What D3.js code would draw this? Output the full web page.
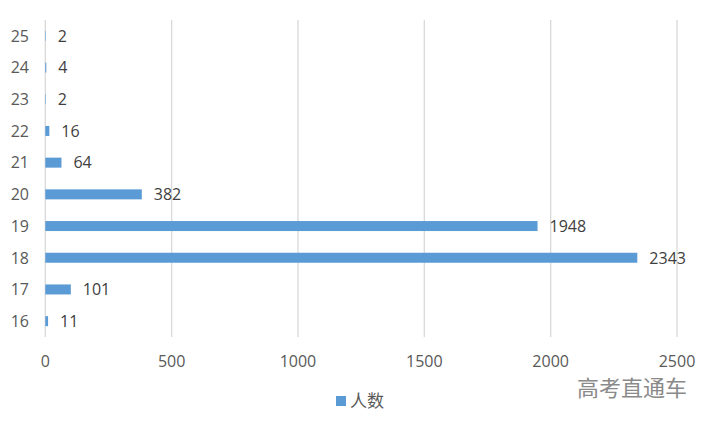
<!DOCTYPE html>
<html><head><meta charset="utf-8">
<script src="https://cdn.jsdelivr.net/npm/d3@7/dist/d3.min.js"></script>
<style>body{margin:0;background:#fff}svg{display:block}text{font-family:"Open Sans","Noto Sans CJK SC",sans-serif}.cjk{font-family:"Noto Sans CJK SC",sans-serif}</style>
</head><body><svg id="c" width="714" height="427"></svg>
<script>
const categories = ["16","17","18","19","20","21","22","23","24","25"];
const values = [11,101,2343,1948,382,64,16,2,4,2];
const xTicks = [0,500,1000,1500,2000,2500];
const seriesName = "人数";
const watermark = "高考直通车";

const svg = d3.select("#c");
const x = d3.scaleLinear().domain([0,2500]).range([45.3,677]);
const y = d3.scaleBand().domain(categories.slice().reverse()).range([20,337]);
const barH = 10;

// gridlines
svg.append("g").selectAll("line").data(xTicks).join("line")
  .attr("x1",d=>x(d)).attr("x2",d=>x(d)).attr("y1",20).attr("y2",337)
  .attr("stroke","#d9d9d9").attr("stroke-width",1.3);

// bars
svg.append("g").selectAll("rect").data(categories).join("rect")
  .attr("x",x(0)).attr("y",(d)=>y(d)+y.bandwidth()/2-barH/2)
  .attr("width",(d,i)=>Math.max(0,x(values[i])-x(0)))
  .attr("height",barH).attr("fill","#5b9bd5");

// data labels
svg.append("g").selectAll("text").data(categories).join("text")
  .attr("x",(d,i)=>x(values[i])+12).attr("y",d=>y(d)+y.bandwidth()/2)
  .attr("dy","0.36em").attr("font-size",16).attr("fill","#404040")
  .text((d,i)=>values[i]);

// y labels
svg.append("g").selectAll("text").data(categories).join("text")
  .attr("x",29).attr("y",d=>y(d)+y.bandwidth()/2).attr("dy","0.36em")
  .attr("text-anchor","end").attr("font-size",16).attr("fill","#595959").text(d=>d);

// x labels
svg.append("g").selectAll("text").data(xTicks).join("text")
  .attr("x",d=>x(d)).attr("y",361).attr("dy","0.36em")
  .attr("text-anchor","middle").attr("font-size",16).attr("fill","#595959").text(d=>d);

// legend
svg.append("rect").attr("x",336).attr("y",396).attr("width",10).attr("height",10).attr("fill","#5b9bd5");
svg.append("text").attr("class","cjk").attr("x",350).attr("y",401).attr("dy","0.36em").attr("font-size",17).attr("fill","#595959").text(seriesName);

// watermark
svg.append("text").attr("class","cjk").attr("x",577).attr("y",388).attr("dy","0.36em").attr("font-size",22).attr("fill","#8a8a8a").text(watermark);
</script></body></html>
